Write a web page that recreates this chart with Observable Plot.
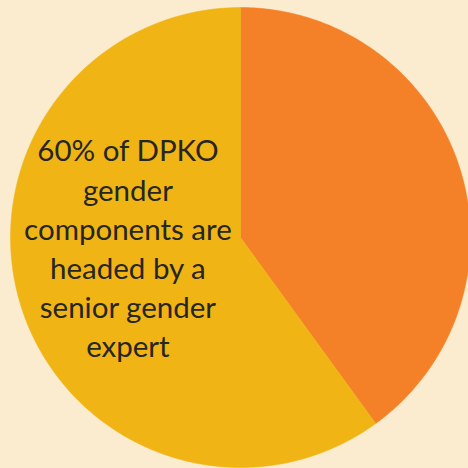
<!DOCTYPE html>
<html>
<head>
<meta charset="utf-8">
<script src="https://cdn.jsdelivr.net/npm/d3@7"></script>
<script src="https://cdn.jsdelivr.net/npm/@observablehq/plot@0.6"></script>
<style>
  html, body { margin: 0; padding: 0; background: #FCECCF; }
  #chart svg { display: block; }
</style>
</head>
<body>
<div id="chart"></div>
<script>
// Data
const categories = ["Headed by a senior gender expert (other)", "Headed by a senior gender expert"];
const values = [40, 60];
const colors = ["#F48127", "#F0B414"];
const labelText = "60% of DPKO\ngender\ncomponents are\nheaded by a\nsenior gender\nexpert";

// Build slices with d3.pie (starting at 12 o'clock, clockwise)
const pie = d3.pie().sort(null).value(d => d.value)(categories.map((c, i) => ({category: c, value: values[i], color: colors[i]})));
const pts = [];
for (const s of pie) {
  pts.push({category: s.data.category, x: 0, y: 0});
  const n = 180;
  for (let k = 0; k <= n; k++) {
    const a = s.startAngle + (s.endAngle - s.startAngle) * k / n;
    pts.push({category: s.data.category, x: Math.sin(a), y: Math.cos(a)});
  }
  pts.push({category: s.data.category, x: 0, y: 0});
}
const yellow = pie[1];
const midA = (yellow.startAngle + yellow.endAngle) / 2;
const labels = [{text: labelText, x: Math.sin(midA) * 0.52 + 0.005, y: Math.cos(midA) * 0.52 + 0.12}];

const W = 468, H = 468, cx = 240, cy = 237, R = 230;
const chart = Plot.plot({
  width: W, height: H,
  margin: 0,
  style: {background: "#FCECCF", fontFamily: "Lato, 'Open Sans', sans-serif"},
  x: {domain: [-cx / R, (W - cx) / R], axis: null},
  y: {domain: [-(H - cy) / R, cy / R], axis: null},
  color: {domain: categories, range: colors},
  marks: [
    Plot.line(pts, {x: "x", y: "y", z: "category", fill: "category", stroke: "category", strokeWidth: 0.5, curve: "linear"}),
    Plot.text(labels, {x: "x", y: "y", text: "text", fontSize: 29.5, lineHeight: 1.33, fill: "#262626", textAnchor: "middle"})
  ]
});
document.getElementById("chart").appendChild(chart);
</script>
</body>
</html>
